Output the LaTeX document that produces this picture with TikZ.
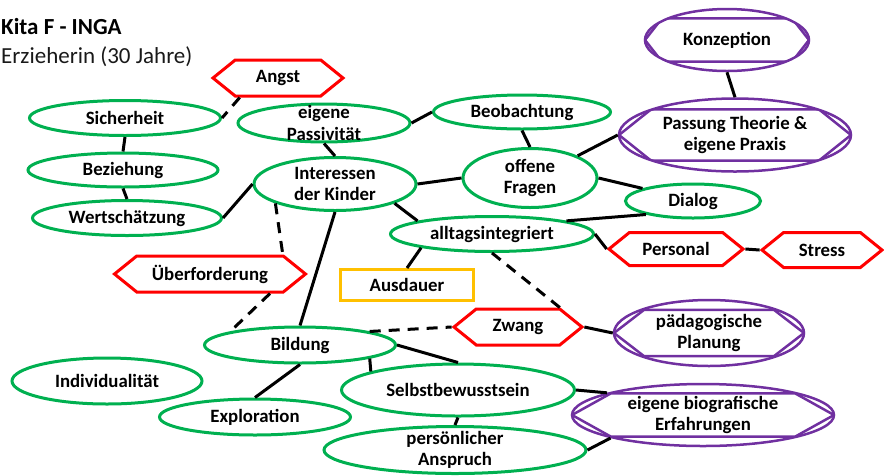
\documentclass[tikz,border=0pt]{standalone}
\usepackage{fontspec}
\setmainfont{Carlito}
\usetikzlibrary{shapes.geometric, shapes.symbols, calc}

\definecolor{gruen}{HTML}{00B050}
\definecolor{rot}{HTML}{FF0000}
\definecolor{lila}{HTML}{7030A0}
\definecolor{gold}{HTML}{FFC000}

\tikzset{
  gr/.style 2 args = {minimum width = #1pt, minimum height = #2pt},
  schrift/.style = {font = \bfseries\fontsize{18.8}{21.5}\selectfont, align = center, inner sep = -4pt},
  begriff/.style = {schrift, ellipse, draw = gruen, line width = 3pt},
  warn/.style = {schrift, signal, signal to = west and east, signal pointer angle = 78, draw = rot, line width = 3pt},
  kasten/.style = {schrift, rectangle, draw = gold, line width = 3pt},
  doppel/.style = {schrift, ellipse, draw = lila, line width = 2.5pt,
    path picture = {
      \draw[lila, line width = 2.5pt]
        let \p1 = (path picture bounding box.south west),
            \p2 = (path picture bounding box.north east) in
        (\x1, {0.5*\y1 + 0.5*\y2}) -- ({\x1 + #1pt}, {0.15*\y1 + 0.85*\y2})
        -- ({\x2 - #1pt}, {0.15*\y1 + 0.85*\y2}) -- (\x2, {0.5*\y1 + 0.5*\y2})
        -- ({\x2 - #1pt}, {0.85*\y1 + 0.15*\y2}) -- ({\x1 + #1pt}, {0.85*\y1 + 0.15*\y2}) -- cycle;
    }},
  linie/.style = {line width = 3pt},
  gestrichelt/.style = {line width = 3pt, dash pattern = on 11pt off 8pt}
}

\begin{document}
\begin{tikzpicture}[x = 1pt, y = -1pt]
\useasboundingbox (0,0) rectangle (884,475);

\node[anchor = base west, inner sep = 0pt, font = \bfseries\fontsize{23}{27}\selectfont] (titel) at (1,34.5) {Kita F - INGA};
\node[anchor = base west, inner sep = 0pt, text = black!90, font = \fontsize{23}{27}\selectfont] (beruf) at (1,63) {Erzieherin (30 Jahre)};

% Begriffe
\node[warn, gr={130}{36}] (angst) at (278,78) {Angst};
\node[begriff, gr={191}{35}] (sicherheit) at (125,118) {Sicherheit};
\node[begriff, gr={190}{34}] (beziehung) at (123,170) {Beziehung};
\node[begriff, gr={189}{35}] (wertschaetzung) at (127,218) {Wertschätzung};
\node[begriff, gr={172}{37}] (passivitaet) at (324,123) {eigene\\Passivität};
\node[begriff, gr={162}{53}] (interessen) at (335,184) {Interessen\\der Kinder};
\node[begriff, gr={177}{34}] (beobachtung) at (522,112) {Beobachtung};
\node[begriff, gr={134}{59}] (fragen) at (530,178) {offene\\Fragen};
\node[doppel=32, gr={232}{73}] (passung) at (735,135) {Passung Theorie \&\\eigene Praxis};
\node[doppel=17, gr={164}{62}] (konzeption) at (727,40) {Konzeption};
\node[begriff, gr={135}{34}] (dialog) at (693,201) {Dialog};
\node[begriff, gr={203}{35}] (alltag) at (492,234) {alltagsintegriert};
\node[kasten, gr={133}{31}] (ausdauer) at (407,285) {Ausdauer};
\node[warn, gr={191}{36}] (ueberforderung) at (210,274) {Überforderung};
\node[warn, gr={134}{33}] (personal) at (676,249) {Personal};
\node[warn, gr={120}{35}] (stress) at (822,250) {Stress};
\node[warn, gr={128}{36}] (zwang) at (518,327) {Zwang};
\node[doppel=30, gr={190}{66}] (planung) at (709,333) {pädagogische\\Planung};
\node[doppel=39, gr={262}{62}] (biografie) at (703,415) {eigene biografische\\Erfahrungen};
\node[begriff, gr={191}{36}] (bildung) at (300,345) {Bildung};
\node[begriff, gr={190}{46}] (individualitaet) at (107,381) {Individualität};
\node[begriff, gr={191}{36}] (exploration) at (255,417) {Exploration};
\node[begriff, gr={233}{52}] (selbst) at (458,390) {Selbstbewusstsein};
\node[begriff, gr={262}{47}] (anspruch) at (455,450) {persönlicher\\Anspruch};

% Verbindungen
\draw[gestrichelt] (angst.207) -- (sicherheit.east);
\draw[linie] (sicherheit.south) -- (beziehung.north);
\draw[linie] (beziehung.south) -- (wertschaetzung.north);
\draw[linie] (wertschaetzung.east) -- (interessen.west);
\draw[linie] (passivitaet.south) -- (interessen.north);
\draw[linie] (passivitaet.east) -- (beobachtung.west);
\draw[linie] (interessen.east) -- (fragen.west);
\draw[linie] (beobachtung.south) -- (fragen.north);
\draw[linie] (fragen.25) -- (passung.west);
\draw[linie] (konzeption.south) -- (passung.north);
\draw[linie] (fragen.east) -- (dialog.166);
\draw[linie] (dialog.196) -- (alltag.10);
\draw[linie] (interessen.342) -- (alltag.170);
\draw[linie] (alltag.east) -- (personal.west);
\draw[linie] (personal.east) -- (stress.west);
\draw[linie] (alltag.191) -- (ausdauer.north);
\draw[gestrichelt] (alltag.south) -- (zwang.25);
\draw[linie] (zwang.east) -- (planung.west);
\draw[gestrichelt] (bildung.11) -- (zwang.west);
\draw[gestrichelt] (interessen.198) -- (ueberforderung.15);
\draw[gestrichelt] (ueberforderung.342) -- (bildung.169);
\draw[linie] (interessen.south) -- (bildung.north);
\draw[linie] (bildung.south) -- (exploration.north);
\draw[linie] (bildung.east) -- (selbst.north);
\draw[linie] (bildung.349) -- (selbst.168);
\draw[linie] (selbst.south) -- (anspruch.north);
\draw[linie] (selbst.east) -- (biografie.167);
\draw[linie] (anspruch.east) -- (biografie.194);
\end{tikzpicture}
\end{document}
